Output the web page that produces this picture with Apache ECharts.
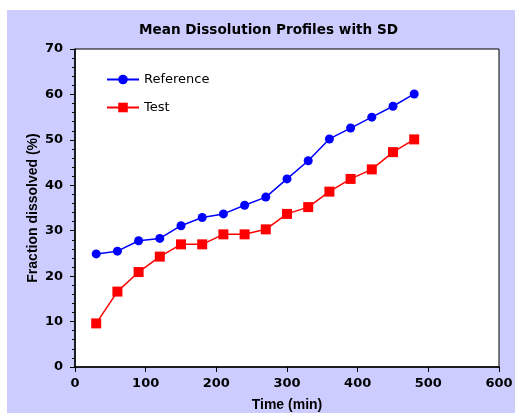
<!DOCTYPE html>
<html>
<head>
<meta charset="utf-8">
<script src="https://cdn.jsdelivr.net/npm/echarts@6/dist/echarts.min.js"></script>
<style>
  html, body { margin: 0; padding: 0; background: #fff; }
  #container1 { width: 515px; height: 413px; }
</style>
</head>
<body>
<div id="container1"></div>
<script>
// sampling times (min)
var times = [30, 60, 90, 120, 150, 180, 210, 240, 270, 300, 330, 360, 390, 420, 450, 480];
// mean fraction dissolved (%)
var referenceVals = [24.9, 25.5, 27.8, 28.3, 31.1, 32.9, 33.7, 35.6, 37.4, 41.4, 45.4, 50.2, 52.6, 55.0, 57.4, 60.1];
var testVals = [9.6, 16.6, 20.9, 24.3, 27.0, 27.0, 29.2, 29.2, 30.3, 33.7, 35.2, 38.6, 41.4, 43.5, 47.3, 50.1];

function pairs(xs, ys) {
  return xs.map(function (x, i) { return [x, ys[i]]; });
}

var dom = document.getElementById("container1");
var myChart = echarts.init(dom);
var option = {
  animation: false,
  textStyle: { fontFamily: 'DejaVu Sans, sans-serif' },
  graphic: [{
    type: 'rect',
    z: -10,
    silent: true,
    shape: { x: 7, y: 10, width: 508, height: 403 },
    style: { fill: '#ccccff' }
  }],
  title: {
    text: 'Mean Dissolution Profiles with SD',
    left: 134,
    top: 18,
    textStyle: { fontSize: 13.6, fontWeight: 'bold', color: '#000' }
  },
  legend: {
    orient: 'vertical',
    left: 101,
    top: 68,
    itemWidth: 32,
    itemHeight: 12,
    itemGap: 15,
    textStyle: { fontSize: 13, color: '#000' },
    data: ['Reference', 'Test']
  },
  grid: {
    left: 75,
    right: 16,
    top: 49,
    bottom: 46,
    outerBoundsMode: 'none',
    show: true,
    backgroundColor: '#fff',
    borderColor: '#000',
    borderWidth: 1
  },
  xAxis: {
    type: 'value',
    min: 0,
    max: 600,
    interval: 100,
    name: 'Time (min)',
    nameLocation: 'middle',
    nameGap: 31,
    nameMoveOverlap: false,
    nameTextStyle: { fontFamily: 'Liberation Sans, Arial, sans-serif', fontSize: 14, fontWeight: 'bold', color: '#000' },
    axisLine: { onZero: false, lineStyle: { color: '#000', width: 1.5 } },
    axisTick: { inside: false, length: 5, lineStyle: { color: '#000' } },
    axisLabel: { fontSize: 13, fontWeight: 'bold', color: '#000', margin: 10 },
    splitLine: { show: false }
  },
  yAxis: {
    type: 'value',
    min: 0,
    max: 70,
    interval: 10,
    name: 'Fraction dissolved (%)',
    nameLocation: 'middle',
    nameGap: 35,
    nameMoveOverlap: false,
    nameTextStyle: { fontFamily: 'Liberation Sans, Arial, sans-serif', fontSize: 14, fontWeight: 'bold', color: '#000' },
    axisLine: { show: true, onZero: false, lineStyle: { color: '#000', width: 1.5 } },
    axisTick: { show: true, inside: false, length: 5, lineStyle: { color: '#000' } },
    minorTick: { show: true, splitNumber: 5, length: 3, lineStyle: { color: '#000' } },
    axisLabel: { fontSize: 13, fontWeight: 'bold', color: '#000', margin: 12 },
    splitLine: { show: false }
  },
  series: [{
    name: 'Reference',
    type: 'line',
    data: pairs(times, referenceVals),
    symbol: 'circle',
    symbolSize: 9,
    itemStyle: { color: '#0000ff' },
    lineStyle: { color: '#0000ff', width: 1.5 }
  }, {
    name: 'Test',
    type: 'line',
    data: pairs(times, testVals),
    symbol: 'rect',
    symbolSize: 10,
    itemStyle: { color: '#ff0000' },
    lineStyle: { color: '#ff0000', width: 1.5 }
  }]
};
myChart.setOption(option, true);
window.addEventListener("resize", () => {
  myChart.resize();
});
</script>
</body>
</html>
